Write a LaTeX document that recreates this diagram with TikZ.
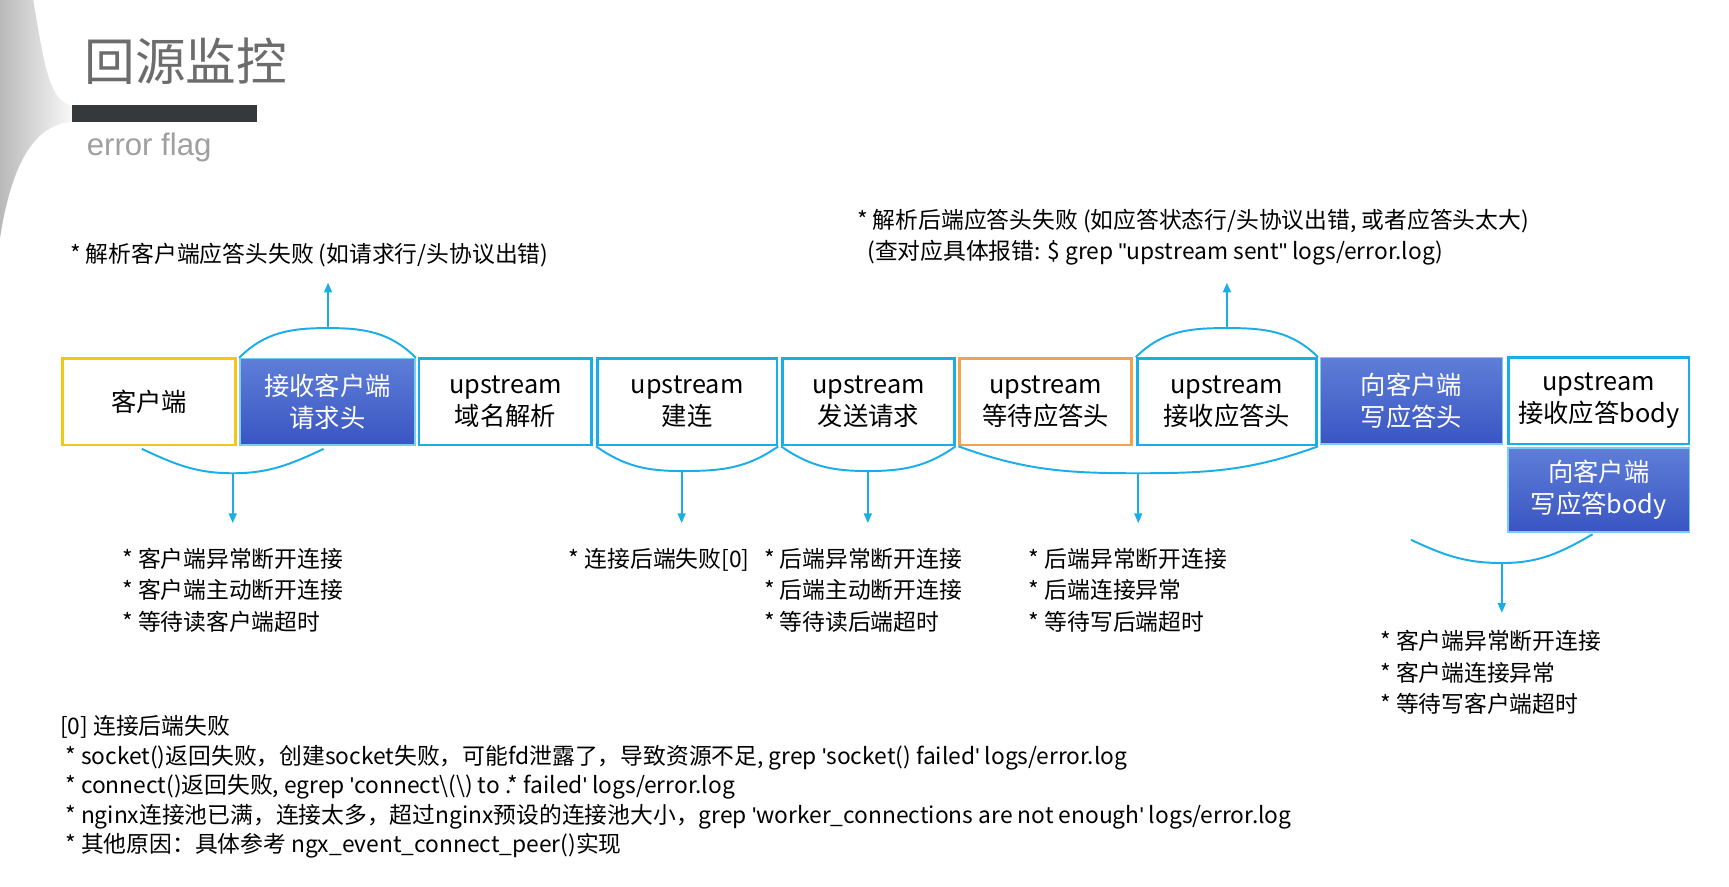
\documentclass[tikz,border=0pt]{standalone}
\usepackage{fontspec}
\setmainfont[Ligatures=NoCommon]{Noto Sans CJK SC}
\newfontfamily\latinsans{Liberation Sans}
\usetikzlibrary{arrows.meta}
\definecolor{cy}{HTML}{1AAEE8}
\definecolor{bl1}{HTML}{5E7ED8}
\definecolor{bl2}{HTML}{3A55C2}
\definecolor{yl}{HTML}{F5C518}
\definecolor{og}{HTML}{F5A04A}
\newcommand{\sq}{{\latinsans\symbol{39}}}
\newcommand{\dq}{{\latinsans\symbol{34}}}
\tikzset{
 box/.style={draw=cy,line width=1.4pt,fill=white,minimum height=1.56cm,align=center,font=\fontsize{13}{16.5}\selectfont,inner sep=0pt},
 bbox/.style={draw=cy!60,line width=0.8pt,top color=bl1,bottom color=bl2,text=white,minimum height=1.56cm,align=center,font=\fontsize{13}{16.5}\selectfont,inner sep=0pt},
 brace/.style={draw=cy,line width=1pt},
 arr/.style={draw=cy,line width=1pt,-{Triangle[length=5pt,width=4pt]}},
 lbl/.style={anchor=north west,align=left,font=\fontsize{11.7}{16.3}\selectfont,inner sep=0pt}
}
\begin{document}
\begin{tikzpicture}[x=0.02cm,y=-0.02cm]
\useasboundingbox (0,0) rectangle (1560,800);
\shade[left color=gray!55,right color=gray!5] (0,0) -- (30,0) .. controls (40,60) and (45,92) .. (65,95) -- (65,110) .. controls (30,112) and (10,150) .. (0,215) -- cycle;
\fill[fill={rgb,255:red,53;green,57;blue,60}] (65,95) rectangle (232,110);
\node[anchor=west,text=gray!85!black,font=\fontsize{26}{30}\selectfont,inner sep=0pt] (title) at (76,55) {回源监控};
\node[anchor=west,text=gray!75,font=\latinsans\fontsize{16}{18}\selectfont,inner sep=0pt] (sub) at (78,133) {error flag};
% boxes
\node[box,draw=yl,minimum width=3.12cm] (b1) at (134.5,362.5) {客户端};
\node[bbox,minimum width=3.16cm] (b2) at (295.5,362.5) {接收客户端\\请求头};
\node[box,minimum width=3.12cm] (b3) at (456,362.5) {upstream\\域名解析};
\node[box,minimum width=3.24cm] (b4) at (620,362.5) {upstream\\建连};
\node[box,minimum width=3.1cm] (b5) at (783.5,362.5) {upstream\\发送请求};
\node[box,draw=og,minimum width=3.1cm] (b6) at (943.5,362.5) {upstream\\等待应答头};
\node[box,minimum width=3.24cm] (b7) at (1107,362.5) {upstream\\接收应答头};
\node[bbox,minimum width=3.28cm] (b8) at (1273.5,361.5) {向客户端\\写应答头};
\node[box,minimum width=3.26cm] (b9) at (1442.5,361.5) {upstream\\接收应答body};
\node[bbox,minimum width=3.28cm,minimum height=1.52cm] (b10) at (1442.5,442) {向客户端\\写应答body};
% top braces
\coordinate (t2) at (296,296); \coordinate (t2e) at (296,255);
\draw[brace] (b2.north west) to[out=45,in=180] (t2) to[out=0,in=135] (b2.north east);
\draw[arr] (t2) -- (t2e);
\node[lbl] (l1) at (63,219) {* 解析客户端应答头失败 (如请求行/头协议出错)};
\coordinate (t7) at (1107,296); \coordinate (t7e) at (1107,255);
\draw[brace] (b7.north west) to[out=45,in=180] (t7) to[out=0,in=135] (b7.north east);
\draw[arr] (t7) -- (t7e);
\node[lbl] (l2) at (773,188) {* 解析后端应答头失败 (如应答状态行/头协议出错, 或者应答头太大)\\\ \ (查对应具体报错: \$ grep \dq upstream sent\dq\ logs/error.log)};
% bottom braces
\coordinate (u1) at (210,427); \coordinate (u1e) at (210,472);
\draw[brace] (128,405) to[out=-25,in=180] (u1) to[out=0,in=-155] (292,405);
\draw[arr] (u1) -- (u1e);
\node[lbl] (l3) at (110,494) {* 客户端异常断开连接\\* 客户端主动断开连接\\* 等待读客户端超时};
\coordinate (u4) at (615,425); \coordinate (u4e) at (615,472);
\draw[brace] (b4.south west) to[out=-35,in=180] (u4) to[out=0,in=-145] (b4.south east);
\draw[arr] (u4) -- (u4e);
\node[lbl] (l4) at (513,494) {* 连接后端失败[0]};
\coordinate (u5) at (783,425); \coordinate (u5e) at (783,472);
\draw[brace] (b5.south west) to[out=-35,in=180] (u5) to[out=0,in=-145] (b5.south east);
\draw[arr] (u5) -- (u5e);
\node[lbl] (l5) at (689,494) {* 后端异常断开连接\\* 后端主动断开连接\\* 等待读后端超时};
\coordinate (u6) at (1027,427); \coordinate (u6e) at (1027,472);
\draw[brace] (b6.south west) to[out=-20,in=180] (u6) to[out=0,in=-160] (b7.south east);
\draw[arr] (u6) -- (u6e);
\node[lbl] (l6) at (928,494) {* 后端异常断开连接\\* 后端连接异常\\* 等待写后端超时};
\coordinate (u8) at (1355,508); \coordinate (u8e) at (1355,553);
\draw[brace] (1273,487) to[out=-25,in=180] (u8) to[out=0,in=-150] (1437,482);
\draw[arr] (u8) -- (u8e);
\node[lbl] (l7) at (1245,568) {* 客户端异常断开连接\\* 客户端连接异常\\* 等待写客户端超时};
% notes
\node[lbl,font=\fontsize{11.7}{15.2}\selectfont] (notes) at (54,645) {[0] 连接后端失败\\
\ * socket()返回失败，创建socket失败，可能fd泄露了，导致资源不足, grep \sq socket() failed\sq\ logs/error.log\\
\ * connect()返回失败, egrep \sq connect\textbackslash(\textbackslash) to .* failed\sq\ logs/error.log\\
\ * nginx连接池已满，连接太多，超过nginx预设的连接池大小，grep \sq worker\_connections are not enough\sq\ logs/error.log\\
\ * 其他原因：具体参考 ngx\_event\_connect\_peer()实现};
\end{tikzpicture}
\end{document}
